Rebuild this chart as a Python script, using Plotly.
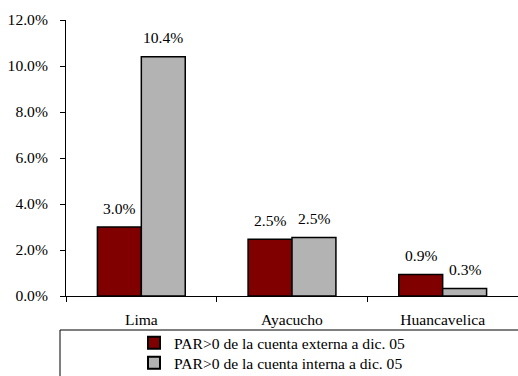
import plotly.graph_objects as go

# Provinces and PAR>0 ratios (fraction of portfolio)
regiones = ["Lima", "Ayacucho", "Huancavelica"]
par_externa = [0.030, 0.0247, 0.0093]
par_interna = [0.104, 0.0254, 0.0033]
nombre_externa = "PAR>0 de la cuenta externa a dic. 05"
nombre_interna = "PAR>0 de la cuenta interna a dic. 05"
ticks_y = [0.0, 0.02, 0.04, 0.06, 0.08, 0.10, 0.12]

color_externa = "#800000"
color_interna = "#B3B3B3"
fuente = "Liberation Serif"
tam = 15.6
bargap = 0.417

# plot area in pixels
izq, arriba, abajo, ancho_fig, alto_fig = 66, 20, 80, 518, 376
alto_plot = alto_fig - arriba - abajo
ancho_plot = ancho_fig - izq
y_cero = alto_fig - abajo

fig = go.Figure()
fig.add_trace(go.Bar(
    x=regiones, y=par_externa, name=nombre_externa, legend="legend",
    marker=dict(color=color_externa, line=dict(color="black", width=1.5)),
))
fig.add_trace(go.Bar(
    x=regiones, y=par_interna, name=nombre_interna, legend="legend2",
    marker=dict(color=color_interna, line=dict(color="black", width=1.5)),
))

# value labels above each bar
ancho = (1 - bargap) / 2
anotaciones = []
for i, (ve, vi) in enumerate(zip(par_externa, par_interna)):
    for off, v in ((-ancho / 2, ve), (ancho / 2, vi)):
        anotaciones.append(dict(
            x=i + off, y=v, xref="x", yref="y",
            text=f"{v:.1%}", showarrow=False, yshift=19,
            yanchor="middle", xanchor="center",
            font=dict(family=fuente, size=tam, color="black"),
        ))


def leyenda(top_px):
    return dict(
        orientation="v", x=(134 - izq) / ancho_plot, xanchor="left",
        y=-(top_px - y_cero) / alto_plot, yanchor="top",
        font=dict(family=fuente, size=tam, color="black"),
        bgcolor="rgba(0,0,0,0)", borderwidth=0, itemsizing="constant",
    )


fig.update_layout(
    width=ancho_fig, height=alto_fig,
    margin=dict(l=izq, r=0, t=arriba, b=abajo, autoexpand=False),
    paper_bgcolor="white", plot_bgcolor="white",
    barmode="group", bargap=bargap, bargroupgap=0,
    font=dict(family=fuente, size=tam, color="black"),
    showlegend=True,
    legend=leyenda(326),
    legend2=leyenda(346),
    annotations=anotaciones,
    shapes=[dict(
        type="rect", xref="paper", yref="paper",
        x0=-6 / ancho_plot, x1=1.02,
        y0=-(392 - y_cero) / alto_plot, y1=-(330 - y_cero) / alto_plot,
        line=dict(color="black", width=1), fillcolor="rgba(0,0,0,0)",
    )],
)
fig.update_xaxes(
    showline=True, linecolor="black", linewidth=1,
    ticks="outside", tickson="boundaries", ticklen=5, tickcolor="black",
    ticklabelstandoff=9,
    showgrid=False, tickfont=dict(family=fuente, size=tam),
)
fig.update_yaxes(
    range=[0, 0.12], tickvals=ticks_y, tickformat=".1%",
    showline=True, linecolor="black", linewidth=1,
    ticks="outside", ticklen=5, tickcolor="black",
    ticklabelstandoff=9,
    showgrid=False, zeroline=False, tickfont=dict(family=fuente, size=tam),
)

fig.write_html("out.html")
